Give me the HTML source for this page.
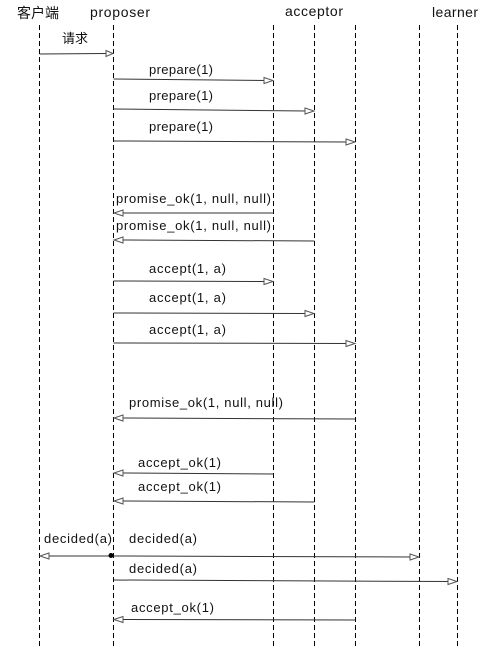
<!DOCTYPE html>
<html><head><meta charset="utf-8"><style>
html,body{margin:0;padding:0;background:#fff;}
svg{display:block;}
text{font-family:"Liberation Sans","Noto Sans CJK SC",sans-serif;font-size:13px;fill:#111;}
.hd{font-size:14px;}
.l{stroke:#000;stroke-width:1;stroke-dasharray:5,3;}
.m{stroke:#333;stroke-width:1;}
.h{fill:#fff;stroke:#555;stroke-width:1;}
</style></head><body>
<svg width="484" height="659" viewBox="0 0 484 659" xmlns="http://www.w3.org/2000/svg">
<text class="hd" x="17" y="18" textLength="42">客户端</text>
<text class="hd" x="90" y="17" textLength="60">proposer</text>
<text class="hd" x="285" y="16" textLength="58">acceptor</text>
<text class="hd" x="432" y="17" textLength="46">learner</text>
<g class="l">
<line x1="39.5" y1="25" x2="39.5" y2="646"/>
<line x1="113.5" y1="25" x2="113.5" y2="646"/>
<line x1="273.5" y1="25" x2="273.5" y2="646"/>
<line x1="314.5" y1="25" x2="314.5" y2="646"/>
<line x1="355.5" y1="25" x2="355.5" y2="646"/>
<line x1="419.5" y1="25" x2="419.5" y2="646"/>
<line x1="457.5" y1="25" x2="457.5" y2="646"/>
</g>
<g class="m">
<line x1="39.5" y1="54" x2="106" y2="53.5"/>
<line x1="113.5" y1="79" x2="266" y2="80.5"/>
<line x1="113.5" y1="109" x2="307" y2="111"/>
<line x1="113.5" y1="141" x2="348" y2="142"/>
<line x1="113.5" y1="281" x2="266" y2="281.5"/>
<line x1="113.5" y1="313" x2="307" y2="313.5"/>
<line x1="113.5" y1="343" x2="348" y2="343.5"/>
<line x1="113.5" y1="556" x2="412" y2="557"/>
<line x1="113.5" y1="580" x2="450" y2="581.5"/>
<line x1="273.5" y1="213" x2="121" y2="213"/>
<line x1="314.5" y1="241" x2="121" y2="240"/>
<line x1="355.5" y1="419" x2="121" y2="418"/>
<line x1="273.5" y1="474" x2="121" y2="473"/>
<line x1="314.5" y1="502" x2="121" y2="501"/>
<line x1="113.5" y1="556" x2="47" y2="556"/>
<line x1="355.5" y1="620" x2="121" y2="619.5"/>
</g>
<g class="h">
<polygon points="106,50.5 113,53.5 106,56.5"/>
<polygon points="264,77.5 273,80.5 264,83.5"/>
<polygon points="305,108 314,111 305,114"/>
<polygon points="346,139 355,142 346,145"/>
<polygon points="264,278.5 273,281.5 264,284.5"/>
<polygon points="305,310.5 314,313.5 305,316.5"/>
<polygon points="346,340.5 355,343.5 346,346.5"/>
<polygon points="410,554 419,557 410,560"/>
<polygon points="448,578.5 457,581.5 448,584.5"/>
<polygon points="123,210 114,213 123,216"/>
<polygon points="123,237 114,240 123,243"/>
<polygon points="123,415 114,418 123,421"/>
<polygon points="123,470 114,473 123,476"/>
<polygon points="123,498 114,501 123,504"/>
<polygon points="49,553 40,556 49,559"/>
<polygon points="123,616.5 114,619.5 123,622.5"/>
</g>
<circle cx="111" cy="555.5" r="2.5" fill="#000"/>
<text x="62" y="43">请求</text>
<text x="149" y="74" textLength="64">prepare(1)</text>
<text x="149" y="100" textLength="64">prepare(1)</text>
<text x="149" y="131" textLength="64">prepare(1)</text>
<text x="116" y="203" textLength="155">promise_ok(1, null, null)</text>
<text x="116" y="230" textLength="155">promise_ok(1, null, null)</text>
<text x="149" y="273" textLength="77">accept(1, a)</text>
<text x="149" y="302" textLength="77">accept(1, a)</text>
<text x="149" y="334" textLength="77">accept(1, a)</text>
<text x="129" y="407" textLength="154">promise_ok(1, null, null)</text>
<text x="138" y="467" textLength="83">accept_ok(1)</text>
<text x="138" y="491" textLength="83">accept_ok(1)</text>
<text x="44" y="543" textLength="68">decided(a)</text>
<text x="129" y="543" textLength="68">decided(a)</text>
<text x="129" y="573" textLength="68">decided(a)</text>
<text x="131" y="612" textLength="83">accept_ok(1)</text>
</svg>
</body></html>
